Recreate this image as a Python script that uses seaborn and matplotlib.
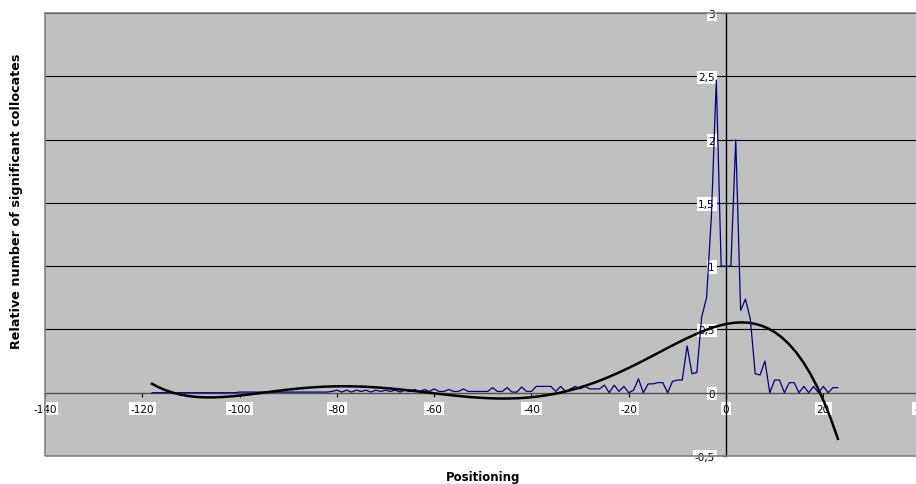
import matplotlib
matplotlib.use("Agg")
import matplotlib.pyplot as plt
from matplotlib.patches import Rectangle
import numpy as np
import seaborn as sns

# positions -118 .. 23 (one value per position)
positions = list(range(-118, 24))

far_left = [0.0] * 18 + [0.005] * 19                      # -118 .. -82
wavy = [0.01, 0.02, 0.005, 0.02, 0.005, 0.02, 0.01, 0.02, 0.005, 0.02,
        0.01, 0.02, 0.01, 0.02, 0.005, 0.02, 0.01, 0.025, 0.01, 0.025]   # -81 .. -62
middle = [0.01, 0.03, 0.01, 0.01, 0.025, 0.01, 0.01, 0.03, 0.01, 0.01,
          0.01, 0.01, 0.01, 0.04, 0.01, 0.01, 0.04, 0.005, 0.005, 0.045,
          0.01, 0.01, 0.05, 0.05, 0.05, 0.05, 0.01, 0.05, 0.01, 0.03,
          0.05, 0.03, 0.05, 0.03, 0.03, 0.03, 0.06, 0.0, 0.06, 0.01,
          0.05, 0.0, 0.02, 0.11, 0.0, 0.07, 0.07, 0.08, 0.08, 0.0,
          0.09, 0.1, 0.1]                                   # -61 .. -9
centre = [0.37, 0.15, 0.16, 0.6, 0.75, 1.4, 2.47, 1.0, 1.0, 1.0,
          2.0, 0.65, 0.74, 0.58, 0.15, 0.14, 0.25]          # -8 .. 8
right = [0.0, 0.1, 0.1, 0.0, 0.08, 0.08, 0.0, 0.05, 0.0, 0.05,
         0.0, 0.05, 0.0, 0.04, 0.04]                        # 9 .. 23
values = far_left + wavy + middle + centre + right

x_ticks = [-140, -120, -100, -80, -60, -40, -20, 0, 20, 40]
y_ticks = [-0.5, 0, 0.5, 1, 1.5, 2, 2.5, 3]
y_tick_labels = ["-0,5", "0", "0,5", "1", "1,5", "2", "2,5", "3"]

plt.rcParams["font.family"] = ["DejaVu Sans"]

fig = plt.figure(figsize=(9.16, 4.85), dpi=100)
ax = fig.add_axes([45 / 916, 1 - 457 / 485, (920.6 - 45) / 916, (457 - 14) / 485])
ax.set_facecolor("#c0c0c0")

for y in y_ticks:
    if y != 0:
        ax.axhline(y, color="black", lw=0.8, zorder=1)

sns.lineplot(x=positions, y=values, color="#000080", lw=0.9, ax=ax, zorder=3)
# polynomial trendline, like the spreadsheet's
sns.regplot(x=np.array(positions), y=np.array(values), order=6, scatter=False,
            ci=None, ax=ax, line_kws=dict(color="black", lw=1.8, zorder=4))

ax.set_xlim(-140, 40)
ax.set_ylim(-0.5, 3)

for s in ["top", "right"]:
    ax.spines[s].set_visible(False)
ax.spines["left"].set_position(("data", 0))
ax.spines["left"].set_color("black")
ax.spines["left"].set_linewidth(1.0)
ax.spines["bottom"].set_position(("data", 0))
ax.spines["bottom"].set_color("#505050")
ax.spines["bottom"].set_linewidth(1.0)
ax.add_patch(Rectangle((0, 0), 1, 1, transform=ax.transAxes, fill=False,
                       edgecolor="#808080", lw=1.2, clip_on=False, zorder=5))

ax.set_xticks(x_ticks)
ax.set_xticklabels([str(t) for t in x_ticks])
ax.set_yticks(y_ticks)
ax.set_yticklabels(y_tick_labels)
ax.tick_params(axis="both", direction="out", length=3, width=0.8,
               labelsize=7.5, colors="black")
ax.tick_params(axis="x", pad=5)
ax.tick_params(axis="y", pad=5)
for lab in ax.get_xticklabels() + ax.get_yticklabels():
    lab.set_bbox(dict(facecolor="white", edgecolor="none", pad=1.2))

ax.set_xlabel("")
ax.set_ylabel("")
fig.text(483 / 916, 1 - 478 / 485, "Positioning", ha="center", va="center",
         fontsize=8.5, fontweight="bold")
fig.text(17 / 916, 1 - 201 / 485, "Relative number of significant collocates",
         ha="center", va="center", rotation=90, fontsize=9.2, fontweight="bold")

fig.savefig("out.png", dpi=100)
